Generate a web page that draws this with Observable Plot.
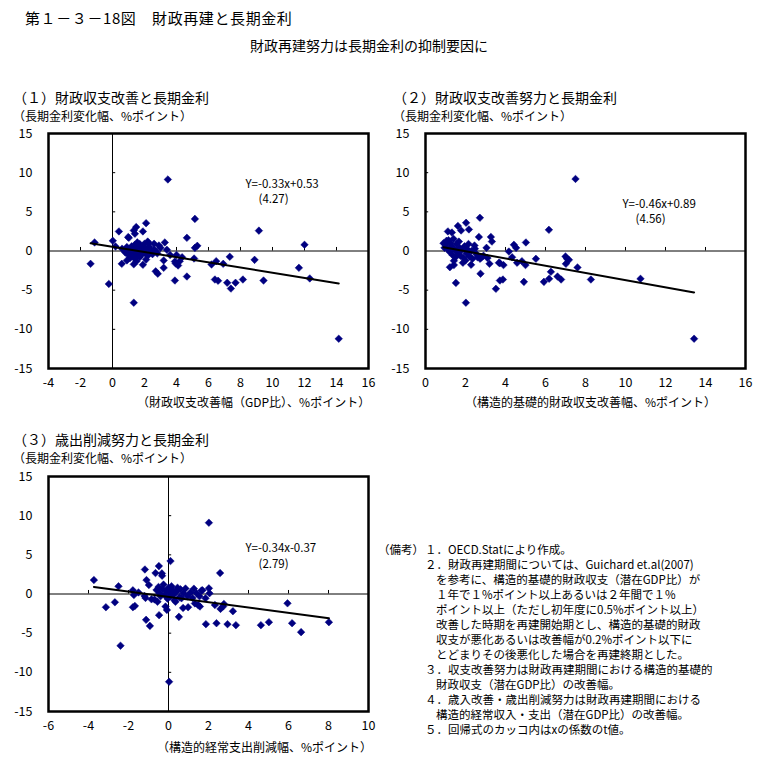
<!DOCTYPE html>
<html><head><meta charset="utf-8">
<script src="https://cdn.jsdelivr.net/npm/d3@7"></script>
<script src="https://cdn.jsdelivr.net/npm/@observablehq/plot@0.6"></script>
<style>
body{margin:0;background:#fff;font-family:"Noto Sans CJK JP",sans-serif;color:#000}
#root{position:relative;width:771px;height:776px;overflow:hidden;background:#fff}
.t{position:absolute;white-space:nowrap;line-height:1}
.p{position:absolute}
</style></head><body><div id="root"></div>
<script>
// ---------- texts ----------
const mainTitle = "第１－３－18図　財政再建と長期金利";
const subTitle = "財政再建努力は長期金利の抑制要因に";
const panelTitles = ["（１）財政収支改善と長期金利", "（２）財政収支改善努力と長期金利", "（３）歳出削減努力と長期金利"];
const yAxisLabel = "（長期金利変化幅、%ポイント）";
const xAxisLabels = ["（財政収支改善幅（GDP比）、%ポイント）", "（構造的基礎的財政収支改善幅、%ポイント）", "（構造的経常支出削減幅、%ポイント）"];
const equations = ["Y=-0.33x+0.53", "Y=-0.46x+0.89", "Y=-0.34x-0.37"];
const tValues = ["(4.27)", "(4.56)", "(2.79)"];
const slopes = [-0.33, -0.46, -0.34];
const intercepts = [0.53, 0.89, -0.37];
const notesHead = "（備考）";
const notesLines = [
  "１．OECD.Statにより作成。",
  "２．財政再建期間については、Guichard et.al(2007)",
  "を参考に、構造的基礎的財政収支（潜在GDP比）が",
  "１年で１%ポイント以上あるいは２年間で１%",
  "ポイント以上（ただし初年度に0.5%ポイント以上）",
  "改善した時期を再建開始期とし、構造的基礎的財政",
  "収支が悪化あるいは改善幅が0.2%ポイント以下に",
  "とどまりその後悪化した場合を再建終期とした。",
  "３．収支改善努力は財政再建期間における構造的基礎的",
  "財政収支（潜在GDP比）の改善幅。",
  "４．歳入改善・歳出削減努力は財政再建期間における",
  "構造的経常収入・支出（潜在GDP比）の改善幅。",
  "５．回帰式のカッコ内はxの係数のt値。"
];

// ---------- ticks ----------
const yTicks = [-15, -10, -5, 0, 5, 10, 15];
const xTicks1 = [-4, -2, 0, 2, 4, 6, 8, 10, 12, 14, 16];
const xTicks2 = [0, 2, 4, 6, 8, 10, 12, 14, 16];
const xTicks3 = [-6, -4, -2, 0, 2, 4, 6, 8, 10];

// ---------- data ----------
const p1x = [3.46,5.15,9.15,2.10,1.48,1.33,1.40,0.40,1.90,1.02,0.02,-1.12,4.65,5.15,5.30,3.27,3.00,3.40,2.60,2.27,2.00,
  -1.37,-0.23,1.33,0.58,1.33,1.90,2.70,2.83,3.20,3.90,4.65,3.90,4.10,3.95,4.35,5.10,6.19,6.48,6.92,7.33,6.40,6.60,7.17,7.40,7.69,8.15,8.88,9.44,
  12.00,11.65,12.33,14.14,0.19,3.20,
  0.60,0.80,0.90,1.00,1.10,1.10,1.20,1.30,1.30,1.40,1.40,1.50,1.50,1.60,1.60,1.70,1.70,1.80,1.80,1.90,2.00,2.10,2.20,2.30,2.40,2.50,2.60,2.80,2.90,
  1.20,0.90,1.50,2.10,3.60,4.00,4.20,2.70,1.55,2.20,0.98];
const p1y = [9.13,4.10,2.60,3.55,3.05,2.62,2.20,2.50,2.50,1.68,1.30,1.09,1.68,0.40,0.66,1.09,0.40,0.15,0.92,1.00,0.92,
  -1.64,-4.20,-6.60,-1.64,-1.70,-1.76,-2.60,-2.90,-2.15,-3.77,-3.26,-1.35,-1.85,-1.60,-0.80,-0.96,-1.72,-1.30,-1.64,-0.74,-3.64,-3.80,-4.06,-4.80,-4.06,-3.64,-1.13,-3.77,
  0.79,-2.15,-3.50,-11.20,0.58,-1.20,
  0.30,-0.20,0.50,-0.50,0.10,-0.90,0.60,-0.30,0.20,-1.00,0.80,-0.60,0.00,0.40,-0.30,-0.80,0.90,0.10,-0.50,0.60,-0.20,0.30,-0.60,0.50,0.00,-0.40,0.20,-0.30,0.70,
  -0.60,-1.20,-1.30,-1.10,-0.50,-0.50,-1.30,-0.05,1.10,1.20,1.77];

const p2x = [7.50,2.72,2.03,1.62,1.78,2.17,1.12,1.32,6.17,2.67,3.27,3.32,5.02,4.42,4.53,0.90,1.05,1.15,4.17,5.52,7.00,7.08,7.17,7.02,7.60,
  3.20,3.67,3.72,3.90,4.58,4.82,5.00,4.33,2.75,1.52,2.02,3.52,3.72,3.87,4.92,5.92,6.27,6.18,6.60,6.78,8.27,10.75,13.43,
  1.22,1.42,1.42,1.87,2.00,2.28,2.73,2.80,2.45,2.47,1.67,1.00,1.10,1.20,1.30,1.35,1.45,1.50,1.55,1.60,1.70,1.75,1.80,1.90,1.95,2.05,2.10,2.20,2.30,2.35,2.55,2.60,2.90,3.10,
  1.25,2.15,3.05,2.00,1.40,0.95];
const p2y = [9.20,4.24,3.60,3.20,2.62,2.75,2.50,2.36,2.70,1.80,1.80,1.20,1.09,0.79,0.40,1.00,1.30,1.38,-0.06,-1.00,-0.70,-1.00,-1.13,-1.64,-2.10,
  -1.64,-1.50,-1.55,-1.80,-1.50,-1.30,-1.80,-0.80,-2.90,-4.07,-6.60,-4.83,-3.77,-3.64,-3.94,-3.94,-2.66,-3.55,-3.26,-3.64,-3.64,-3.55,-11.20,
  -2.07,-1.80,-1.25,-1.50,-1.20,-1.76,-1.00,-0.80,0.70,0.30,1.20,0.80,0.30,-0.10,0.60,-0.50,0.20,-0.80,0.90,-0.20,0.40,-0.60,0.10,-0.90,0.60,-0.30,0.20,-0.70,0.00,-1.00,-0.40,-0.80,-0.60,-0.90,
  1.00,0.90,0.40,0.30,1.55,0.40];

const p3x = [2.02,0.10,2.58,-0.48,-1.18,-0.65,-0.33,-0.32,-1.10,-0.98,-3.73,-2.50,-1.78,-1.73,-1.20,-1.15,-0.85,-3.13,-2.68,-1.78,-1.68,-1.12,-0.93,-0.47,-0.08,-2.40,
  0.52,0.73,0.98,1.32,1.48,1.57,1.85,2.05,2.02,1.70,1.27,2.32,2.60,2.73,3.22,1.87,2.40,2.95,3.37,4.62,5.02,5.95,6.18,6.63,8.02,0.03,2.77,0.65,
  -0.60,-0.50,-0.45,-0.40,-0.30,-0.25,-0.20,-0.10,-0.05,0.00,0.05,0.10,0.15,0.20,0.25,0.30,0.40,0.45,0.55,0.60,0.75,0.85,0.95,1.10,1.20,1.40,1.55,1.65,
  -0.70,-1.50,-0.55,0.35,-0.15];
const p3y = [9.10,4.20,2.67,3.56,3.13,2.67,2.63,2.33,1.78,1.14,1.78,0.98,0.47,-0.13,-0.25,-0.50,-0.68,-1.69,-1.06,-1.69,-1.52,-3.30,-4.07,-2.70,-2.03,-6.60,
  -2.92,-1.78,-1.69,-1.20,-1.40,-1.60,-0.55,0.09,0.72,0.47,0.68,-1.40,-1.90,-1.60,-2.20,-3.85,-3.73,-3.85,-3.98,-3.98,-3.60,-1.19,-3.73,-4.87,-3.60,-11.20,-1.27,-0.55,
  0.50,0.90,0.10,-0.30,0.60,1.20,-0.10,0.40,-0.60,0.80,0.20,-0.30,1.00,0.50,-0.10,-0.80,0.30,0.80,-0.40,0.60,0.10,0.70,-0.30,0.20,-0.50,0.10,-0.30,0.45,
  -0.70,0.20,-1.00,-1.00,-1.60];

// ---------- layout ----------
const root = document.getElementById("root");
function addText(str, left, cy, size, extra) {
  const d = document.createElement("div");
  d.className = "t";
  d.textContent = str;
  d.style.left = left + "px";
  d.style.top = (cy - size / 2) + "px";
  d.style.fontSize = size + "px";
  if (extra) Object.assign(d.style, extra);
  root.appendChild(d);
  return d;
}

addText(mainTitle, 25, 17, 15, {letterSpacing: "0.6px"});
addText(subTitle, 250, 45, 14);

const panels = [
  {xs: p1x, ys: p1y, xTicks: xTicks1, left: 0, top: 123, titleY: 97, subY: 116, xlabX: 137, xlabY: 402, eqPos: [8.31, 8.5], tPos: [9.125, 6.6], ytick: 0.2},
  {xs: p2x, ys: p2y, xTicks: xTicks2, left: 377, top: 123, titleY: 97, subY: 116, xlabX: 465, xlabY: 402, eqPos: [9.85, 6.0], tPos: [10.5, 4.05], ytick: 0.16},
  {xs: p3x, ys: p3y, xTicks: xTicks3, left: 0, top: 466, titleY: 439, subY: 458, xlabX: 157, xlabY: 747, eqPos: [3.85, 5.85], tPos: [4.5, 3.85], ytick: 0.16}
];

panels.forEach((P, i) => {
  addText(panelTitles[i], P.left + (i === 1 ? 16 : 13), P.titleY, 14);
  addText(yAxisLabel, P.left + (i === 1 ? 16 : 13), P.subY, 12);
  addText(xAxisLabels[i], P.xlabX, P.xlabY, 12);

  const pts = P.xs.map((x, k) => ({x, y: P.ys[k]}));
  const xmin = d3.min(P.xs), xmax = d3.max(P.xs);
  const fit = [xmin, xmax].map(x => ({x, y: slopes[i] * x + intercepts[i]}));
  const dom = [P.xTicks[0], P.xTicks[P.xTicks.length - 1]];
  const innerX = P.xTicks.filter(v => v !== 0 && v !== dom[0] && v !== dom[1]);
  const innerY = yTicks.filter(v => v !== 0 && v !== -15 && v !== 15);

  const plot = Plot.plot({
    width: 385, height: 280,
    marginLeft: 48, marginRight: 17, marginTop: 10, marginBottom: 35,
    style: {fontFamily: '"Noto Sans CJK JP", sans-serif', fontSize: "12.5px", background: "transparent", overflow: "visible", color: "#000"},
    x: {domain: dom},
    y: {domain: [-15, 15]},
    marks: [
      Plot.ruleY([0], {stroke: "#000", strokeWidth: 1}),
      Plot.ruleX([0], {stroke: "#000", strokeWidth: 1}),
      Plot.ruleX(innerX, {x: d => d, y1: 0, y2: 0.45, stroke: "#000", strokeWidth: 1}),
      Plot.ruleY(innerY, {y: d => d, x1: 0, x2: P.ytick, stroke: "#000", strokeWidth: 1}),
      Plot.dot(pts, {x: "x", y: "y", symbol: "diamond2", r: 3.4, fill: "#000080", stroke: "#000080", strokeWidth: 0.5}),
      Plot.line(fit, {x: "x", y: "y", stroke: "#000", strokeWidth: 2}),
      Plot.text([equations[i]], {x: P.eqPos[0], y: P.eqPos[1], text: d => d, textAnchor: "start", fontSize: 11.5, fill: "#000"}),
      Plot.text([tValues[i]], {x: P.tPos[0], y: P.tPos[1], text: d => d, textAnchor: "start", fontSize: 11.5, fill: "#000"}),
      Plot.frame({stroke: "#000", strokeWidth: 2.5}),
      Plot.axisX(P.xTicks, {tickSize: 0, tickPadding: 10, tickFormat: d => String(d), label: null, fontSize: 12.5}),
      Plot.axisY(yTicks, {tickSize: 0, tickPadding: 16, tickFormat: d => String(d), label: null, fontSize: 12.5})
    ]
  });
  plot.classList.add("p");
  plot.style.left = P.left + "px";
  plot.style.top = P.top + "px";
  root.appendChild(plot);
});

// notes
addText(notesHead, 378, 550, 11.5);
notesLines.forEach((line, k) => {
  const numbered = /^[１２３４５]．/.test(line);
  addText(line, numbered ? 425 : 436, 550 + 15 * k, 11.5);
});
</script>
</body></html>
